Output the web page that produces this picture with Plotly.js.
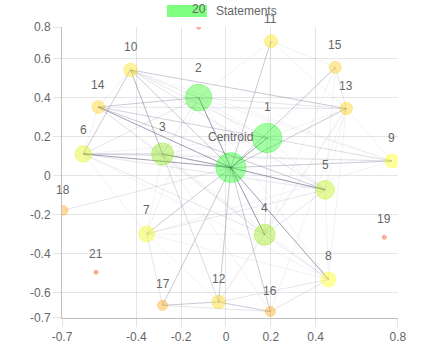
<!DOCTYPE html>
<html>
<head>
<meta charset="utf-8">
<script src="https://cdn.plot.ly/plotly-3.0.1.min.js"></script>
<style>html,body{margin:0;padding:0;background:#fff;}#chart{width:444px;height:355px;}</style>
</head>
<body>
<div id="chart"></div>
<script>
// ---- data ----
var nodeNames = ["Centroid","1","2","3","4","5","6","7","8","9","10","11","12","13","14","15","16","17","18","19","20","21"];
var nodeX = [0.022, 0.184, -0.122, -0.283, 0.173, 0.443, -0.637, -0.354, 0.458, 0.741, -0.426, 0.201, -0.033, 0.537, -0.570, 0.488, 0.198, -0.283, -0.727, 0.707, -0.122, -0.580];
var nodeY = [0.041, 0.193, 0.400, 0.111, -0.303, -0.073, 0.111, -0.299, -0.532, 0.075, 0.542, 0.689, -0.648, 0.344, 0.352, 0.555, -0.697, -0.665, -0.178, -0.316, 0.761, -0.496];
var nodeRadius = [15, 14.7, 13.3, 11, 10.5, 9.3, 8.3, 8, 7.5, 7, 6.7, 6.5, 6.7, 6.2, 6.3, 6, 5, 5, 4.8, 2, 2, 2];
var nodeColors = [
  "rgba(0,255,0,0.5)", "rgba(0,255,0,0.5)", "rgba(20,245,0,0.5)",
  "rgba(130,230,0,0.55)", "rgba(145,232,0,0.55)", "rgba(185,240,0,0.55)",
  "rgba(220,242,0,0.55)", "rgba(240,250,0,0.55)", "rgba(255,255,0,0.55)", "rgba(255,255,0,0.55)",
  "rgba(255,222,0,0.55)", "rgba(255,222,0,0.55)", "rgba(255,212,0,0.55)",
  "rgba(255,205,0,0.55)", "rgba(255,205,0,0.55)", "rgba(255,198,0,0.55)",
  "rgba(255,160,0,0.55)", "rgba(255,160,0,0.55)", "rgba(255,165,0,0.55)",
  "rgba(240,80,30,0.6)", "rgba(240,80,30,0.6)", "rgba(240,80,30,0.6)"
];
// edges: [from, to] grouped by strength
var edgesStrong = [[0,1],[0,2],[0,3],[0,4],[0,5],[0,6],[0,8],[0,14]];
var edgesMedium = [[0,7],[0,9],[0,10],[0,11],[0,12],[0,13],[0,15],[0,16],[0,17],[10,3],[10,13],[10,6],[14,2],[14,5],[6,3],[12,17],[12,16]];
var edgesLight = [[0,18],[10,2],[14,13],[6,2],[2,3],[4,5],[17,16],[7,17],[16,8],[12,8],[10,12],[14,4],[6,9],[13,15],[4,8],[2,13],[10,1],[6,5],[14,1],[10,5]];
var edgesFaint = [[1,2],[1,3],[1,4],[1,5],[1,6],[1,13],[1,15],[1,9],[2,5],[2,4],[2,9],[2,11],[3,4],[3,5],[3,7],[3,12],[3,9],[4,6],[4,7],[4,12],[4,13],[5,7],[5,13],[5,15],[5,8],[6,7],[6,14],[7,8],[7,12],[7,9],[8,13],[9,13],[9,14],[10,14],[11,13],[11,15],[12,13],[3,14],[6,8],[7,5],[3,8],[2,7],[11,4],[13,16],[15,4],[14,9],[10,9],[2,8],[3,16],[6,4]];
var legendLabel = "Statements";
var xTickVals = [-0.7318, -0.4, -0.2, 0, 0.2, 0.4, 0.7678];
var xTickText = ["-0.7", "-0.4", "-0.2", "0", "0.2", "0.4", "0.8"];
var yTickVals = [-0.7298, -0.6, -0.4, -0.2, 0, 0.2, 0.4, 0.6, 0.7618];
var yTickText = ["-0.7", "-0.6", "-0.4", "-0.2", "0", "0.2", "0.4", "0.6", "0.8"];

// ---- build ----
function edgeTrace(list, color) {
  var xs = [], ys = [];
  list.forEach(function (e) {
    xs.push(nodeX[e[0]], nodeX[e[1]], null);
    ys.push(nodeY[e[0]], nodeY[e[1]], null);
  });
  return {x: xs, y: ys, type: "scatter", mode: "lines", line: {color: color, width: 1},
          hoverinfo: "skip", showlegend: false};
}
var traces = [
  edgeTrace(edgesFaint, "rgba(90,90,130,0.07)"),
  edgeTrace(edgesLight, "rgba(90,90,130,0.15)"),
  edgeTrace(edgesMedium, "rgba(80,80,120,0.3)"),
  edgeTrace(edgesStrong, "rgba(70,70,110,0.52)"),
  {
    x: nodeX, y: nodeY, type: "scatter", mode: "markers",
    marker: {size: nodeRadius.map(function (r) { return 2 * r; }), color: nodeColors,
             line: {color: nodeColors, width: 1}},
    hoverinfo: "skip", showlegend: false
  }
];

var fontFam = "'Liberation Sans', Arial, Helvetica, sans-serif";
var annotations = nodeNames.map(function (n, i) {
  return {x: nodeX[i], y: nodeY[i], xref: "x", yref: "y", text: n, showarrow: false,
          yshift: nodeRadius[i] + 16, yanchor: "middle", xanchor: "center",
          font: {family: fontFam, size: 12, color: "#666"}};
});
annotations.unshift({xref: "paper", yref: "paper", x: 0.4524, y: 1.0550, xanchor: "left", yanchor: "middle",
  text: legendLabel, showarrow: false, font: {family: fontFam, size: 12, color: "#666"}});

var axisCommon = {
  showgrid: true, gridcolor: "rgba(0,0,0,0.1)", gridwidth: 1,
  zeroline: false, showline: true, linecolor: "rgba(0,0,0,0.25)", linewidth: 1,
  ticks: "outside", ticklen: 8, tickcolor: "rgba(0,0,0,0.1)",
  tickfont: {family: fontFam, size: 12, color: "#666"}, tickmode: "array", fixedrange: true
};
var layout = {
  width: 444, height: 355,
  margin: {l: 62, r: 46, t: 27, b: 37, pad: 0},
  paper_bgcolor: "#fff", plot_bgcolor: "#fff",
  showlegend: false,
  xaxis: Object.assign({}, axisCommon, {range: [-0.732, 0.768], tickvals: xTickVals, ticktext: xTickText}),
  yaxis: Object.assign({}, axisCommon, {range: [-0.730, 0.762], tickvals: yTickVals, ticktext: yTickText}),
  shapes: [{type: "rect", xref: "paper", yref: "paper", x0: 0.3125, x1: 0.4315, y0: 1.0344, y1: 1.0756,
            fillcolor: "rgba(0,255,0,0.5)", line: {width: 0}}],
  annotations: annotations
};
Plotly.newPlot("chart", traces, layout, {displayModeBar: false, staticPlot: true});
</script>
</body>
</html>
